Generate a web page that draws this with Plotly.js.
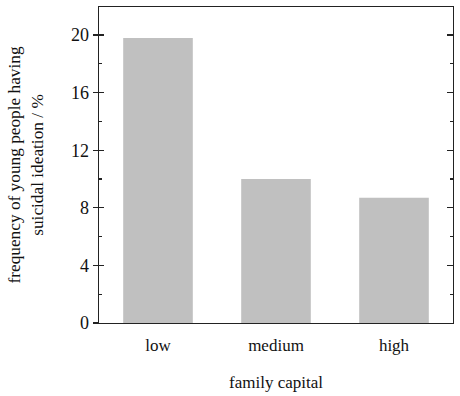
<!DOCTYPE html>
<html>
<head>
<meta charset="utf-8">
<script src="https://cdn.plot.ly/plotly-3.0.1.min.js"></script>
<style>html,body{margin:0;padding:0;background:#fff;}#chart{width:460px;height:396px;}</style>
</head>
<body>
<div id="chart"></div>
<script>
var categories = ["low", "medium", "high"];
var frequency = [19.8, 10.0, 8.7];
var yTickValues = [0, 4, 8, 12, 16, 20];

var font = {family: "Liberation Serif, Times New Roman, serif", size: 17, color: "#111"};
var yTickFont = {family: "Liberation Serif, Times New Roman, serif", size: 18, color: "#111"};
var yTitleFont = {family: "Liberation Serif, Times New Roman, serif", size: 17.3, color: "#111"};

var traces = [
  {type: "bar", x: categories, y: frequency, marker: {color: "#c0c0c0"}, hoverinfo: "skip", yaxis: "y"},
  {type: "bar", x: categories, y: frequency, marker: {color: "rgba(0,0,0,0)"}, hoverinfo: "skip", yaxis: "y2", showlegend: false},
  {type: "bar", x: categories, y: frequency, marker: {color: "rgba(0,0,0,0)"}, hoverinfo: "skip", yaxis: "y3", showlegend: false}
];

var yRange = [0, 21.95];
var layout = {
  width: 460, height: 396,
  margin: {l: 99, r: 7, t: 7, b: 73},
  paper_bgcolor: "#fff", plot_bgcolor: "#fff",
  showlegend: false,
  bargap: 0.41,
  barmode: "overlay",
  font: font,
  xaxis: {
    type: "category",
    showline: true, linecolor: "#222", linewidth: 1.3, mirror: true,
    ticks: "", showgrid: false, zeroline: false,
    tickfont: font, ticklabelstandoff: 6,
    title: {text: "family capital", font: font, standoff: 22}
  },
  yaxis: {
    range: yRange, showline: true, linecolor: "#222", linewidth: 1.3,
    ticks: "outside", ticklen: 5, tickcolor: "#222", tickwidth: 1.2,
    tickvals: yTickValues, showgrid: false, zeroline: false,
    tickfont: yTickFont,
    title: {text: "frequency of young people having<br>suicidal ideation / %", font: yTitleFont, standoff: 23}
  },
  yaxis2: {
    overlaying: "y", side: "left", range: yRange,
    showline: false, showticklabels: false, showgrid: false, zeroline: false,
    ticks: "inside", ticklen: 5, tickcolor: "#222", tickwidth: 1.2,
    tickvals: yTickValues,
    minor: {ticks: "inside", ticklen: 3, tickcolor: "#222", tickwidth: 1.2, dtick: 2, tick0: 0, showgrid: false}
  },
  yaxis3: {
    overlaying: "y", side: "right", range: yRange,
    showline: true, linecolor: "#222", linewidth: 1.3,
    showticklabels: false, showgrid: false, zeroline: false,
    ticks: "inside", ticklen: 6, tickcolor: "#222", tickwidth: 1.2,
    tickvals: yTickValues,
    minor: {ticks: "inside", ticklen: 3, tickcolor: "#222", tickwidth: 1.2, dtick: 2, tick0: 0, showgrid: false}
  }
};

Plotly.newPlot("chart", traces, layout, {staticPlot: true, displayModeBar: false});
</script>
</body>
</html>
